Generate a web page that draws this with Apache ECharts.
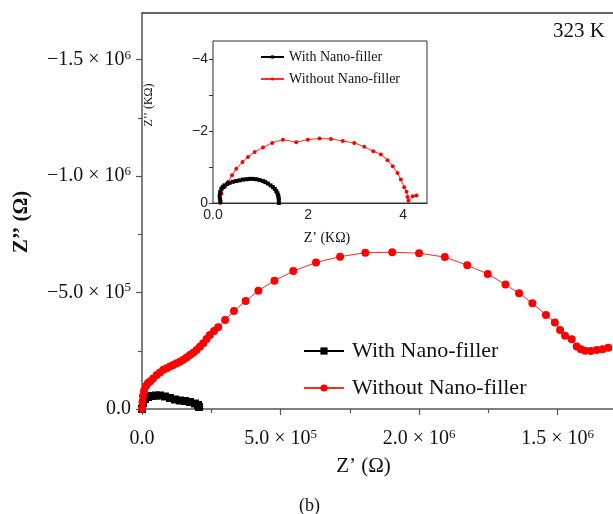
<!DOCTYPE html>
<html><head><meta charset="utf-8">
<script src="https://cdn.jsdelivr.net/npm/echarts@6/dist/echarts.min.js"></script>
<style>html,body{margin:0;padding:0;background:#fff}#c{width:613px;height:514px}</style>
</head><body><div id="c"></div>
<script>
// ---------- data ----------
const seriesLabels = ["With Nano-filler", "Without Nano-filler"];

// main plot (ohm): Z' and Z''
const mainWithX = [0, 3600, 10800, 21700, 36100, 50500, 65000, 83000, 101000, 119000, 137000, 155000, 173000, 191000, 202000, 206000];
const mainWithY = [0, -25800, -43000, -51600, -55800, -58000, -58000, -53700, -47300, -40800, -36500, -34400, -30100, -23600, -17200, -8600];

const mainWithoutX = [0, 1800, 3600, 7200, 14400, 21700, 29000, 40000, 53000, 65000, 77000, 89000, 101000, 113000, 125000, 137000, 149000, 161000, 173000, 185000, 197000, 209000, 221000, 233000, 245000, 260000, 275000, 300000, 332000, 374000, 420000, 478000, 546000, 628000, 715000, 806000, 903000, 1000000, 1093000, 1174000, 1248000, 1312000, 1361000, 1409000, 1458000, 1490000, 1509000, 1527000, 1551000, 1569000, 1584000, 1599000, 1620000, 1641000, 1662000, 1683000];
const mainWithoutY = [0, -30000, -56000, -77000, -99000, -112000, -118000, -131000, -146000, -157000, -168000, -175000, -182000, -189000, -196000, -203000, -211000, -221000, -232000, -242000, -253000, -267000, -282000, -300000, -318000, -335000, -351000, -382000, -421000, -464000, -508000, -551000, -592000, -629000, -654000, -671000, -673000, -669000, -652000, -617000, -580000, -534000, -497000, -454000, -404000, -371000, -339000, -314000, -299000, -268000, -256000, -250000, -249000, -253000, -257000, -263000];

// inset (kilo-ohm)
const insetWithX = [0.155, 0.15, 0.14, 0.15, 0.176, 0.21, 0.245, 0.30, 0.35, 0.42, 0.49, 0.56, 0.63, 0.70, 0.77, 0.84, 0.91, 0.98, 1.05, 1.10, 1.155, 1.21, 1.26, 1.30, 1.33, 1.355, 1.37, 1.38, 1.385, 1.385];
const insetWithY = [-0.03, -0.10, -0.20, -0.30, -0.40, -0.45, -0.49, -0.53, -0.56, -0.59, -0.61, -0.63, -0.65, -0.66, -0.67, -0.67, -0.66, -0.64, -0.61, -0.58, -0.54, -0.49, -0.44, -0.39, -0.33, -0.27, -0.21, -0.15, -0.09, 0];

const insetWithoutX = [0.155, 0.14, 0.176, 0.245, 0.315, 0.40, 0.49, 0.62, 0.735, 0.875, 1.05, 1.245, 1.47, 1.75, 1.995, 2.24, 2.48, 2.73, 2.97, 3.18, 3.37, 3.53, 3.67, 3.78, 3.88, 3.95, 4.02, 4.07, 4.09, 4.11, 4.2, 4.28];
const insetWithoutY = [0, -0.12, -0.26, -0.44, -0.58, -0.77, -0.95, -1.14, -1.28, -1.42, -1.54, -1.67, -1.76, -1.69, -1.76, -1.79, -1.78, -1.72, -1.67, -1.56, -1.44, -1.35, -1.19, -1.02, -0.83, -0.65, -0.44, -0.31, -0.17, -0.06, -0.19, -0.21];

// tick labels (as printed in the figure)
const xTickValues = [0, 500000, 1000000, 1500000];
const xTickMantissa = ["0.0", "5.0", "2.0", "1.5"];
const xTickExponent = ["", "5", "6", "6"];
const xMinorTickValues = [250000, 750000, 1250000];

const yTickValues = [0, -500000, -1000000, -1500000];
const yTickMantissa = ["0.0", "\u22125.0", "\u22121.0", "\u22121.5"];
const yTickExponent = ["", "5", "6", "6"];
const yMinorTickValues = [-250000, -750000, -1250000];

const insetXTickValues = [0, 1, 2, 3, 4];
const insetXLabelValues = [0, 2, 4];
const insetXLabels = ["0.0", "2", "4"];
const insetYTickValues = [0, -1, -2, -3, -4];
const insetYLabelValues = [0, -2, -4];
const insetYLabels = ["0", "\u22122", "\u22124"];

// ---------- chart ----------
const zip = (a, b) => a.map((v, i) => [v, b[i]]);
const SERIF = "'Liberation Serif', 'Times New Roman', serif";
const SANS = "'Liberation Sans', Arial, sans-serif";
const AX = '#555';

function sciLabel(values, mant, exp) {
  return function (v) {
    const i = values.indexOf(v);
    if (i < 0) return '';
    if (!exp[i]) return '{m|' + mant[i] + '}';
    return '{m|' + mant[i] + ' \u00d7 10}{e|' + exp[i] + '}';
  };
}
const rich = {
  m: { fontSize: 20, fontFamily: SERIF, color: '#111', lineHeight: 22 },
  e: { fontSize: 13, fontFamily: SERIF, color: '#111', lineHeight: 13, verticalAlign: 'top' }
};

const legendNames = { mainWith: seriesLabels[0], mainWithout: seriesLabels[1], insetWith: seriesLabels[0], insetWithout: seriesLabels[1] };

const chart = echarts.init(document.getElementById('c'), null, { renderer: 'canvas' });
chart.setOption({
  animation: false,
  backgroundColor: '#fff',
  title: [
    { text: '323 K', right: 8, top: 21, padding: 0, textStyle: { fontSize: 21, fontFamily: SERIF, fontWeight: 'normal', color: '#111' } },
    { text: '(b)', left: 299, top: 497, padding: 0, textStyle: { fontSize: 18, fontFamily: SERIF, fontWeight: 'normal', color: '#111' } }
  ],
  grid: [
    { left: 142, top: 13, right: 0, bottom: 105, show: false },
    { left: 213, top: 41, width: 214, height: 162, show: true, backgroundColor: '#fff', borderColor: '#333', borderWidth: 1, z: 5 }
  ],
  legend: [
    {
      data: ['mainWith', 'mainWithout'], orient: 'vertical', left: 298, top: 335,
      itemWidth: 40, itemHeight: 9, itemGap: 15,
      formatter: n => legendNames[n],
      textStyle: { fontSize: 22, lineHeight: 22, fontFamily: SERIF, color: '#111', padding: [0, 0, 0, 3] },
      selectedMode: false
    },
    {
      data: ['insetWith', 'insetWithout'], orient: 'vertical', left: 255, top: 45,
      itemWidth: 23, itemHeight: 4, itemGap: 8, z: 10,
      formatter: n => legendNames[n],
      textStyle: { fontSize: 14, lineHeight: 14, fontFamily: SERIF, color: '#111' },
      selectedMode: false
    }
  ],
  xAxis: [
    {
      gridIndex: 0, type: 'value', min: 0, max: 1700000, position: 'bottom',
      axisLine: { onZero: false, lineStyle: { color: AX, width: 1.5 } },
      axisTick: { customValues: xTickValues, length: 6, lineStyle: { color: AX, width: 1.2 } },
      axisLabel: { customValues: xTickValues, formatter: sciLabel(xTickValues, xTickMantissa, xTickExponent), rich: rich, margin: 19 },
      splitLine: { show: false },
      name: 'Z\u2019 (\u03a9)', nameLocation: 'middle', nameGap: 47,
      nameTextStyle: { fontSize: 21, fontFamily: SERIF, color: '#111', padding: [0, 28, 0, 0] }
    },
    {
      gridIndex: 0, type: 'value', min: 0, max: 1700000, position: 'top',
      axisLine: { onZero: false, lineStyle: { color: '#333', width: 1.5 } },
      axisTick: { show: false }, axisLabel: { show: false }, splitLine: { show: false }
    },
    {
      gridIndex: 0, type: 'value', min: 0, max: 1700000, position: 'bottom',
      axisLine: { show: false, onZero: false },
      axisTick: { customValues: xMinorTickValues, length: 4, lineStyle: { color: AX, width: 1.2 } },
      axisLabel: { show: false }, splitLine: { show: false }
    },
    {
      gridIndex: 1, type: 'value', min: 0, max: 4.5, position: 'bottom',
      axisLine: { onZero: false, lineStyle: { color: '#333', width: 1.2 } },
      axisTick: { customValues: insetXTickValues, inside: true, length: 3, lineStyle: { color: '#333' } },
      axisLabel: {
        customValues: insetXLabelValues, margin: 5,
        formatter: v => insetXLabels[insetXLabelValues.indexOf(v)] || '',
        fontSize: 14, fontFamily: SANS, color: '#222'
      },
      splitLine: { show: false },
      name: 'Z\u2019 (K\u03a9)', nameLocation: 'middle', nameGap: 28,
      nameTextStyle: { fontSize: 14, fontFamily: SERIF, color: '#111', padding: [0, 0, 0, 14] }
    }
  ],
  yAxis: [
    {
      gridIndex: 0, type: 'value', min: -1700000, max: 0, inverse: true, position: 'left',
      axisLine: { onZero: false, lineStyle: { color: AX, width: 1.5 } },
      axisTick: { customValues: yTickValues, length: 6, lineStyle: { color: AX, width: 1.2 } },
      axisLabel: { customValues: yTickValues, formatter: sciLabel(yTickValues, yTickMantissa, yTickExponent), rich: rich, margin: 11 },
      splitLine: { show: false },
      name: 'Z\u2019\u2019 (\u03a9)', nameLocation: 'middle', nameGap: 110,
      nameTextStyle: { fontSize: 21, fontWeight: 'bold', fontFamily: SERIF, color: '#111', padding: [0, 22, 0, 0] }
    },
    {
      gridIndex: 0, type: 'value', min: -1700000, max: 0, inverse: true, position: 'left',
      axisLine: { show: false, onZero: false },
      axisTick: { customValues: yMinorTickValues, length: 4, lineStyle: { color: AX, width: 1.2 } },
      axisLabel: { show: false }, splitLine: { show: false }
    },
    {
      gridIndex: 1, type: 'value', min: -4.5, max: 0, inverse: true, position: 'left',
      axisLine: { onZero: false, lineStyle: { color: '#333', width: 1.2 } },
      axisTick: { customValues: insetYTickValues, length: 4, lineStyle: { color: '#333' } },
      axisLabel: {
        customValues: insetYLabelValues, margin: 5,
        formatter: v => insetYLabels[insetYLabelValues.indexOf(v)] || '',
        fontSize: 14, fontFamily: SANS, color: '#222'
      },
      splitLine: { show: false },
      name: 'Z\u2019\u2019 (K\u03a9)', nameLocation: 'middle', nameGap: 58,
      nameTextStyle: { fontSize: 12, fontFamily: SERIF, color: '#111', padding: [0, 0, 0, 34] }
    }
  ],
  series: [
    {
      name: 'mainWith', type: 'line', xAxisIndex: 0, yAxisIndex: 0,
      data: zip(mainWithX, mainWithY), symbol: 'rect', symbolSize: 8, showAllSymbol: true,
      itemStyle: { color: '#000' }, lineStyle: { color: '#000', width: 1.5 }, z: 3
    },
    {
      name: 'mainWithout', type: 'line', xAxisIndex: 0, yAxisIndex: 0,
      data: zip(mainWithoutX, mainWithoutY), symbol: 'circle', symbolSize: 8, showAllSymbol: true,
      itemStyle: { color: '#ff0000' }, lineStyle: { color: '#ff2a2a', width: 1 }, z: 4
    },
    {
      name: 'insetWithout', type: 'line', xAxisIndex: 3, yAxisIndex: 2,
      data: zip(insetWithoutX, insetWithoutY), symbol: 'circle', symbolSize: 4, showAllSymbol: true,
      itemStyle: { color: '#ff0000' }, lineStyle: { color: '#ff2a2a', width: 1 }, z: 6
    },
    {
      name: 'insetWith', type: 'line', xAxisIndex: 3, yAxisIndex: 2,
      data: zip(insetWithX, insetWithY), symbol: 'rect', symbolSize: 4, showAllSymbol: true,
      itemStyle: { color: '#000' }, lineStyle: { color: '#000', width: 1.2 }, z: 7
    }
  ]
});
</script>
</body></html>
